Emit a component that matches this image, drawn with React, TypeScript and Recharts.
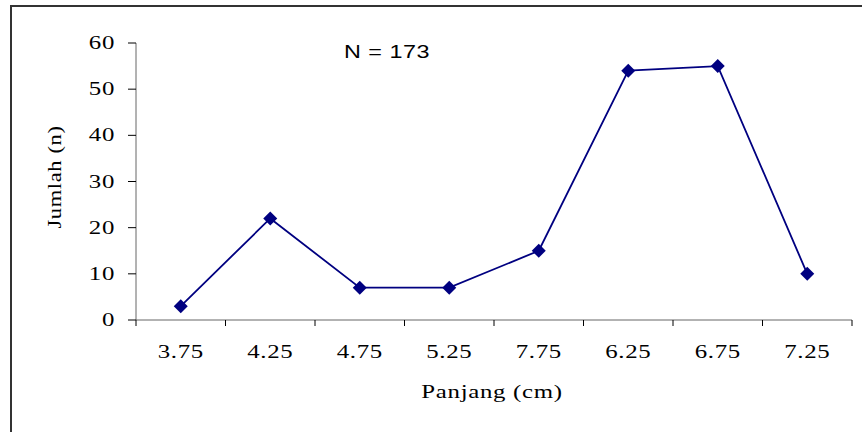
import { LineChart, Line, XAxis, YAxis, Label } from "recharts";

// kategori panjang (urutan sesuai gambar asli)
const lengths = ["3.75", "4.25", "4.75", "5.25", "7.75", "6.25", "6.75", "7.25"];
const counts = [3, 22, 7, 7, 15, 54, 55, 10];
const yTicks = [0, 10, 20, 30, 40, 50, 60];

const W = 862;
const H = 432;
const LEFT = 136;
const RIGHT = 10;
const HALF = (W - LEFT - RIGHT) / lengths.length / 2;

// titik di tengah tiap kelas, tick di batas kelas
const data = lengths.map((name, i) => ({ name, x: i + 0.5, n: counts[i] }));
const xTicks = [...lengths.map((_, i) => i), lengths.length];

const SERIF = "'Liberation Serif', 'Times New Roman', serif";
const SANS = "'Liberation Sans', Arial, sans-serif";

// teks agak melebar seperti gambar asli (skala + sedikit spasi huruf)
function Stretch({
  x,
  y,
  anchor = "middle",
  size = 18,
  family = SERIF,
  sx = 1.38,
  ls = 0.5,
  rotate = 0,
  children,
}: any) {
  const t = rotate
    ? `translate(${x},${y}) rotate(${rotate}) scale(${sx},1)`
    : `translate(${x},${y}) scale(${sx},1)`;
  return (
    <text
      transform={t}
      textAnchor={anchor}
      fontFamily={family}
      fontSize={size}
      letterSpacing={ls}
      fill="#000"
    >
      {children}
    </text>
  );
}

function XTick(props: any) {
  const { x, y, payload } = props;
  const label = lengths[payload.value];
  if (!label) return <g />;
  return (
    <Stretch x={x + HALF} y={y + 30}>
      {label}
    </Stretch>
  );
}

function YTick(props: any) {
  const { x, y, payload } = props;
  return (
    <Stretch x={x} y={y + 6} anchor="end">
      {payload.value}
    </Stretch>
  );
}

function Diamond(props: any) {
  const { cx, cy } = props;
  if (cx == null || cy == null) return null;
  const r = 7;
  return (
    <polygon
      points={`${cx},${cy - r} ${cx + r},${cy} ${cx},${cy + r} ${cx - r},${cy}`}
      fill="#000080"
    />
  );
}

export default function App() {
  return (
    <div
      style={{
        position: "fixed",
        left: 0,
        top: 0,
        width: W,
        height: H,
        background: "#fff",
        overflow: "hidden",
      }}
    >
      <div
        style={{
          position: "absolute",
          left: 10,
          top: 5,
          width: 900,
          height: 500,
          border: "2px solid #333",
        }}
      />
      <div style={{ position: "absolute", left: 0, top: 0 }}>
        <LineChart
          width={W}
          height={H}
          data={data}
          margin={{ top: 43, right: RIGHT, bottom: 0, left: 0 }}
        >
          <XAxis
            dataKey="x"
            type="number"
            domain={[0, lengths.length]}
            ticks={xTicks}
            interval={0}
            height={H - 320}
            tickSize={6}
            tick={<XTick />}
            stroke="#666"
            tickLine={{ stroke: "#000" }}
          >
            <Label
              content={() => (
                <Stretch x={492} y={398}>
                  Panjang (cm)
                </Stretch>
              )}
            />
          </XAxis>
          <YAxis
            domain={[0, 60]}
            ticks={yTicks}
            width={LEFT}
            tickSize={8}
            tickMargin={13}
            stroke="#666"
            tickLine={{ stroke: "#000" }}
            tick={<YTick />}
          >
            <Label
              content={() => (
                <Stretch x={61} y={177} rotate={-90} sx={1.25} ls={0.5} size={18}>
                  Jumlah (n)
                </Stretch>
              )}
            />
          </YAxis>
          <Line
            dataKey="n"
            stroke="#000080"
            strokeWidth={1.8}
            dot={<Diamond />}
            activeDot={false}
            isAnimationActive={false}
          />
          <Stretch x={387} y={58} family={SANS} sx={1.3} ls={0.4}>
            N = 173
          </Stretch>
        </LineChart>
      </div>
    </div>
  );
}
